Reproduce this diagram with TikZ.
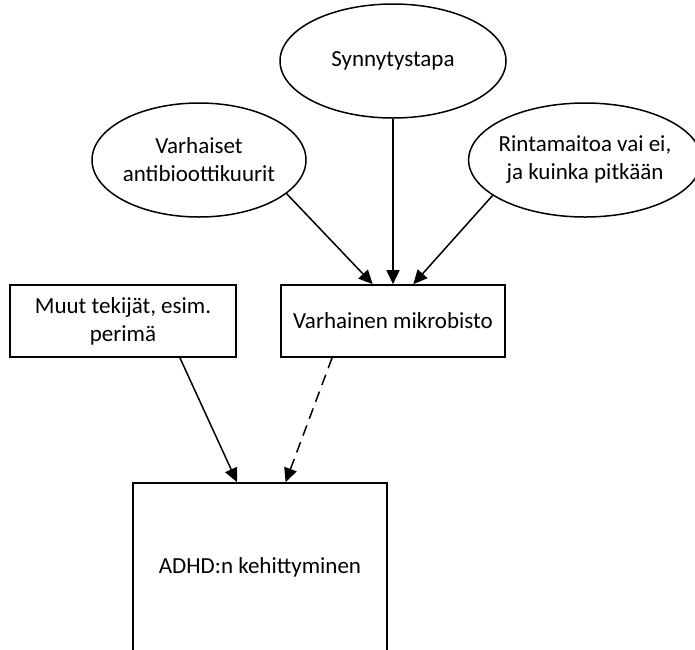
\documentclass[tikz,border=0pt]{standalone}
\usepackage{fontspec}
\setmainfont{Carlito}
\usetikzlibrary{shapes.geometric,arrows.meta,calc}
\tikzset{
  cause/.style={ellipse, draw, line width=0.75pt, inner sep=-2pt, align=center,
    minimum width=113pt, minimum height=57pt},
  factor/.style={rectangle, draw, line width=0.85pt, inner sep=0pt, align=center},
  arr/.style={line width=0.75pt, -{Triangle[length=7pt,width=6.5pt]}}
}
\begin{document}
\begin{tikzpicture}[x=0.5pt, y=-0.5pt, font=\fontsize{11.5}{14}\selectfont]
      \useasboundingbox (0,0) rectangle (695,649);
      \node (synn) at (393,61) [cause] {Synnytystapa};
      \node (varh) at (199,160) [cause, minimum width=107pt] {Varhaiset\\antibioottikuurit};
      \node (rint) at (585,160) [cause, minimum width=112pt] {Rintamaitoa vai ei,\\ja kuinka pitkään};
      \node (muut) at (123,321) [factor, minimum width=113pt, minimum height=36pt] {Muut tekijät, esim.\\perimä};
      \node (mik) at (393,321) [factor, minimum width=112pt, minimum height=36pt] {Varhainen mikrobisto};
      \node (adhd) at (260,567) [factor, minimum width=127pt, minimum height=84pt] {ADHD:n kehittyminen};
      % end points on the box edges
      \coordinate (mikA) at ($(mik.north west)!0.41!(mik.north east)$);
      \coordinate (mikC) at ($(mik.north west)!0.59!(mik.north east)$);
      \coordinate (mikD) at ($(mik.south west)!0.23!(mik.south east)$);
      \coordinate (muutD) at ($(muut.south west)!0.75!(muut.south east)$);
      \coordinate (adhdA) at ($(adhd.north west)!0.41!(adhd.north east)$);
      \coordinate (adhdB) at ($(adhd.north west)!0.6!(adhd.north east)$);
      \foreach \source/\dest in {varh.-21/mikA, synn.south/mik.north, rint.-159/mikC, muutD/adhdA}
        \draw[arr] (\source) -- (\dest);
      \draw[arr, dash pattern=on 5.5pt off 3.5pt] (mikD) -- (adhdB);
\end{tikzpicture}
\end{document}
